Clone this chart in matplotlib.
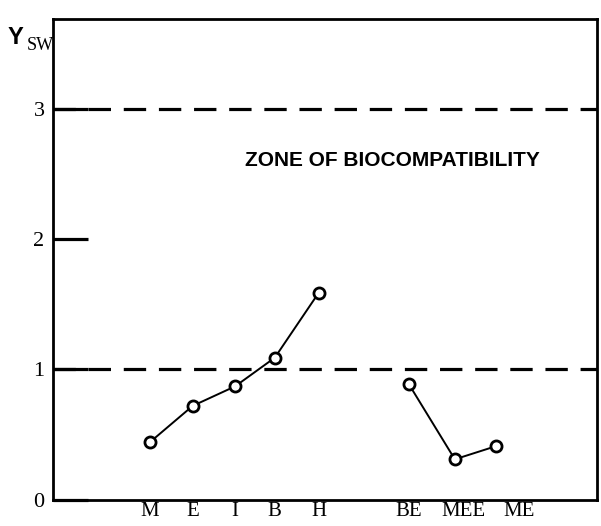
import matplotlib
matplotlib.use("Agg")
import matplotlib.pyplot as plt

# categories and Ysw values
group1 = ["M", "E", "I", "B", "H"]
group1_x = [1.78, 2.57, 3.35, 4.08, 4.89]
group1_y = [0.44, 0.72, 0.87, 1.09, 1.59]

group2 = ["BE", "MEE", "ME"]
group2_x = [6.54, 7.39, 8.14]
group2_y = [0.89, 0.31, 0.41]

# label positions (not exactly under the points in the original)
tick_pos = [1.78, 2.57, 3.35, 4.08, 4.89, 6.54, 7.54, 8.58]
tick_labels = group1 + group2

zone_low, zone_high = 1, 3

serif = "Liberation Serif"
sans = "Liberation Sans"

fig = plt.figure(figsize=(6.01, 5.26), dpi=100)
ax = fig.add_axes([0.088, 0.05, 0.905, 0.914])

ax.plot(group1_x, group1_y, color="black", lw=1.4, zorder=2)
ax.plot(group2_x, group2_y, color="black", lw=1.4, zorder=2)
ax.plot(group1_x + group2_x, group1_y + group2_y, "o", ms=8, mfc="white",
        mec="black", mew=2, ls="none", zorder=3)

for yv in (zone_low, zone_high):
    ax.axhline(yv, color="black", lw=2.3, dashes=(7, 4))

ax.text(0.625, 2.6, "ZONE OF BIOCOMPATIBILITY", transform=ax.get_yaxis_transform(),
        ha="center", va="center", fontsize=15, fontweight="bold", family=sans)

ax.set_xlim(0, 10)
ax.set_ylim(0, 3.69)
ax.set_yticks([0, 1, 2, 3])
ax.set_yticklabels(["0", "1", "2", "3"], family=serif, fontsize=16)
ax.set_xticks(tick_pos)
ax.set_xticklabels(tick_labels, family=serif, fontsize=15)
ax.tick_params(axis="y", direction="in", length=25, width=2.3, pad=6)
ax.tick_params(axis="x", length=0, pad=2)

for s in ax.spines.values():
    s.set_linewidth(2)

fig.text(0.012, 0.928, "Y", family=sans, fontweight="bold", fontsize=17,
         ha="left", va="center")
fig.text(0.045, 0.914, "SW", family=serif, fontsize=13, ha="left", va="center")

fig.savefig("out.png", dpi=100)
